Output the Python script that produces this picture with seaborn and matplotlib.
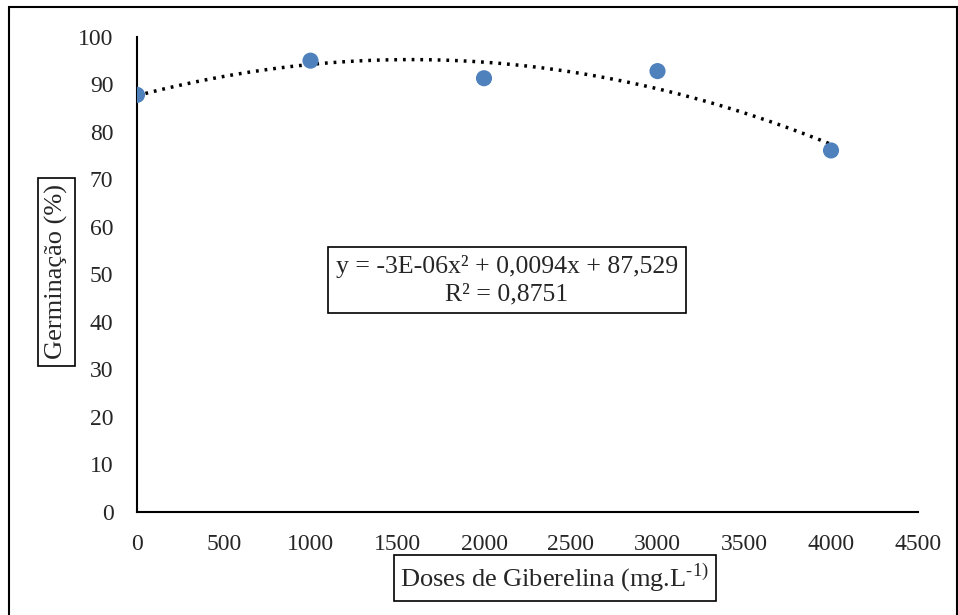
import numpy as np
import pandas as pd
import matplotlib
matplotlib.use("Agg")
import matplotlib.pyplot as plt
import seaborn as sns
from matplotlib.patches import Rectangle

# Data
doses = [0, 1000, 2000, 3000, 4000]
germinacao = [87.8, 95.0, 91.3, 92.8, 76.1]
x_ticks = [0, 500, 1000, 1500, 2000, 2500, 3000, 3500, 4000, 4500]
y_ticks = [0, 10, 20, 30, 40, 50, 60, 70, 80, 90, 100]

df = pd.DataFrame({'dose': doses, 'germ': germinacao})

sns.set_style("white")
plt.rcParams['font.family'] = ['Liberation Serif', 'DejaVu Serif']
plt.rcParams['mathtext.fontset'] = 'custom'
plt.rcParams['mathtext.rm'] = 'Liberation Serif'

fig = plt.figure(figsize=(9.58, 6.15), dpi=100)
ax = fig.add_axes([0.143, 0.1675, 0.815, 0.7725])

# polynomial trendline (order 2)
coef = np.polyfit(df['dose'], df['germ'], 2)
xs = np.linspace(0, 4000, 200)
ax.plot(xs, np.polyval(coef, xs), color='black', linestyle=(0, (0.8, 1.7)),
        linewidth=2.5, zorder=2)

sns.scatterplot(x='dose', y='germ', data=df, ax=ax, color='#4F81BD', s=135,
                edgecolor='none', zorder=3)

ax.set_xlim(0, 4500)
ax.set_ylim(0, 100)
ax.set_xticks(x_ticks)
ax.set_yticks(y_ticks)
ax.tick_params(axis='both', length=0, labelsize=17)
ax.tick_params(axis='y', pad=17)
ax.tick_params(axis='x', pad=16)
for side in ['top', 'right']:
    ax.spines[side].set_visible(False)
for side in ['left', 'bottom']:
    ax.spines[side].set_color('black')
    ax.spines[side].set_linewidth(1.5)
ax.set_xlabel('')
ax.set_ylabel('')

box = dict(boxstyle='square,pad=0.25', facecolor='white', edgecolor='black', linewidth=1.2)
eqbox = dict(boxstyle='square,pad=0.3', facecolor='white', edgecolor='black', linewidth=1.2)
ax.text(2132, 48.8, 'y = -3E-06x² + 0,0094x + 87,529\nR² = 0,8751',
        ha='center', va='center', fontsize=18.5, bbox=eqbox, linespacing=1.3)

fig.text(0.059, 0.558, 'Germinação (%)', rotation=90, ha='center', va='center',
         fontsize=19, bbox=box)
fig.text(0.579, 0.06, r'Doses de Giberelina (mg.L$^{\text{-1)}}$', ha='center', va='center',
         fontsize=19, bbox=box)

# outer frame
fig.patches.append(Rectangle((0.009, -0.01), 0.99, 0.999, transform=fig.transFigure,
                             fill=False, edgecolor='black', linewidth=1.5))

fig.savefig('out.png', dpi=100)
